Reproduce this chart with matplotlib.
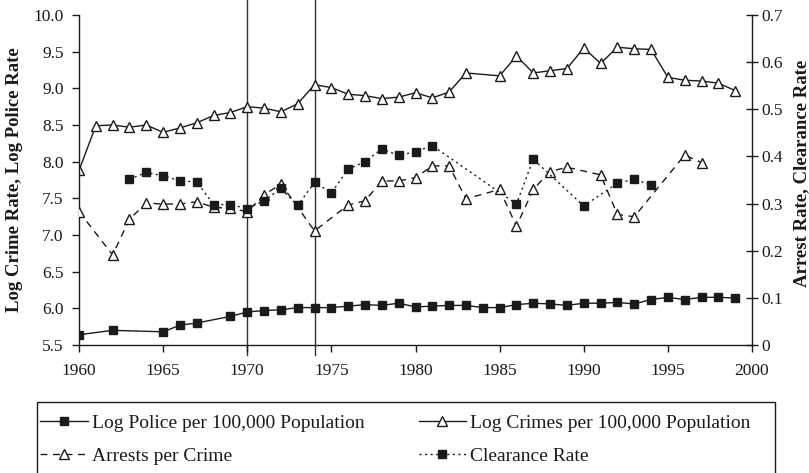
import numpy as np
import matplotlib
matplotlib.use("Agg")
import matplotlib.pyplot as plt
from matplotlib.ticker import FuncFormatter
from matplotlib.patches import Rectangle

plt.rcParams['font.family'] = ['Liberation Serif', 'DejaVu Serif']

# log police per 100,000 population (left axis)
police_years = [1960, 1962, 1965, 1966, 1967, 1969, 1970, 1971, 1972, 1973,
                1974, 1975, 1976, 1977, 1978, 1979, 1980, 1981, 1982, 1983,
                1984, 1985, 1986, 1987, 1988, 1989, 1990, 1991, 1992, 1993,
                1994, 1995, 1996, 1997, 1998, 1999]
police = [5.64, 5.70, 5.68, 5.77, 5.80, 5.89, 5.95, 5.97, 5.98, 6.01,
          6.01, 6.01, 6.03, 6.05, 6.04, 6.07, 6.02, 6.03, 6.04, 6.04,
          6.01, 6.01, 6.05, 6.07, 6.06, 6.04, 6.07, 6.07, 6.08, 6.06,
          6.12, 6.15, 6.12, 6.15, 6.15, 6.14]

# log crimes per 100,000 population (left axis)
crime_years = [1960, 1961, 1962, 1963, 1964, 1965, 1966, 1967, 1968, 1969,
               1970, 1971, 1972, 1973, 1974, 1975, 1976, 1977, 1978, 1979,
               1980, 1981, 1982, 1983, 1985, 1986, 1987, 1988, 1989, 1990,
               1991, 1992, 1993, 1994, 1995, 1996, 1997, 1998, 1999]
crime = [7.88, 8.49, 8.50, 8.47, 8.50, 8.40, 8.46, 8.53, 8.63, 8.67,
         8.75, 8.73, 8.68, 8.79, 9.05, 9.01, 8.92, 8.90, 8.86, 8.88,
         8.94, 8.87, 8.95, 9.21, 9.17, 9.44, 9.21, 9.24, 9.27, 9.55,
         9.34, 9.56, 9.54, 9.53, 9.15, 9.11, 9.10, 9.07, 8.97]

# arrests per crime (right axis)
arrest_years = [1960, 1962, 1963, 1964, 1965, 1966, 1967, 1968, 1969, 1970,
                1971, 1972, 1974, 1976, 1977, 1978, 1979, 1980, 1981, 1982,
                1983, 1985, 1986, 1987, 1988, 1989, 1991, 1992, 1993, 1996,
                1997]
arrests = [0.283, 0.191, 0.267, 0.301, 0.299, 0.299, 0.304, 0.292, 0.290, 0.283,
           0.318, 0.342, 0.242, 0.297, 0.306, 0.348, 0.348, 0.355, 0.380, 0.380,
           0.310, 0.330, 0.252, 0.330, 0.368, 0.377, 0.361, 0.277, 0.272, 0.403,
           0.387]

# clearance rate (right axis)
clear_years = [1963, 1964, 1965, 1966, 1967, 1968, 1969, 1970, 1971, 1972,
               1973, 1974, 1975, 1976, 1977, 1978, 1979, 1980, 1981, 1986,
               1987, 1990, 1992, 1993, 1994]
clearance = [0.352, 0.366, 0.359, 0.348, 0.346, 0.298, 0.298, 0.289, 0.306, 0.332,
             0.296, 0.345, 0.323, 0.373, 0.389, 0.416, 0.402, 0.410, 0.423, 0.299,
             0.394, 0.295, 0.343, 0.352, 0.339]

ink = '#1a1a1a'
W, H = 809, 473

fig = plt.figure(figsize=(W / 100, H / 100), dpi=100)
ax = fig.add_axes([79 / W, 128 / H, 673 / W, 330 / H])
ax2 = ax.twinx()

ax.plot(police_years, police, '-', color=ink, lw=1.0, marker='s', ms=6,
        mfc=ink, mec=ink, label='Log Police per 100,000 Population')
ax.plot(crime_years, crime, '-', color=ink, lw=1.0, marker='^', ms=7.5,
        mfc='white', mec=ink, mew=1.0, label='Log Crimes per 100,000 Population')
ax2.plot(arrest_years, arrests, color=ink, lw=1.0, ls=(0, (5, 4)), marker='^',
         ms=7.5, mfc='white', mec=ink, mew=1.0, label='Arrests per Crime')
ax2.plot(clear_years, clearance, color=ink, lw=1.0, ls=(0, (1.5, 2.5)), marker='s',
         ms=5.5, mfc=ink, mec=ink, label='Clearance Rate')

# policy markers, running a bit past the axes
for yr in [1970, 1974]:
    ax.plot([yr, yr], [5.364, 10.205], color='#333333', lw=1.0, clip_on=False, zorder=1)

ax.set_xlim(1960, 2000)
ax.set_ylim(5.5, 10.0)
ax2.set_ylim(0, 0.7)
ax.set_xticks(np.arange(1960, 2001, 5))
ax.set_yticks(np.arange(5.5, 10.01, 0.5))
ax2.set_yticks(np.arange(0, 0.71, 0.1))
ax.yaxis.set_major_formatter(FuncFormatter(lambda v, p: f'{v:.1f}'))
ax2.yaxis.set_major_formatter(FuncFormatter(lambda v, p: '0' if abs(v) < 1e-9 else f'{v:.1f}'))

for a in (ax, ax2):
    a.spines['top'].set_visible(False)
    for s in a.spines.values():
        s.set_color(ink)
        s.set_linewidth(1.0)
ax.spines['right'].set_visible(False)
ax2.spines['left'].set_visible(False)
ax2.spines['bottom'].set_visible(False)
ax.tick_params(axis='y', labelsize=12.5, colors=ink, width=1.0, length=5, pad=6)
ax.tick_params(axis='x', labelsize=12.5, colors=ink, width=1.0, length=5, pad=8)
ax2.tick_params(axis='y', labelsize=12.5, colors=ink, width=1.0, direction='inout',
                length=8, pad=3)

ax.set_ylabel('Log Crime Rate, Log Police Rate', fontsize=13.5, fontweight='bold', color=ink)
ax.yaxis.set_label_coords(-0.083, 0.5)
ax2.set_ylabel('Arrest Rate, Clearance Rate', fontsize=13.5, fontweight='bold',
               color=ink, rotation=90)
ax2.yaxis.set_label_coords(1.061, 0.52)

# legend box drawn separately so it runs off the bottom edge like the original
fig.patches.append(Rectangle((37 / W, -0.05), 738 / W, 0.05 + 71 / H,
                             transform=fig.transFigure, fill=False,
                             edgecolor=ink, lw=1.0))
h1, l1 = ax.get_legend_handles_labels()
h2, l2 = ax2.get_legend_handles_labels()
handles = [h1[0], h2[0], h1[1], h2[1]]
labels = [l1[0], l2[0], l1[1], l2[1]]
leg = fig.legend(handles, labels, ncol=2, loc='upper left',
                 bbox_to_anchor=(40 / W, 1 - 414 / H), fontsize=14,
                 frameon=False, handlelength=2.45, handletextpad=0.2,
                 borderaxespad=0, borderpad=0, labelspacing=0.8,
                 columnspacing=2.8)
for t in leg.get_texts():
    t.set_color(ink)

fig.savefig('out.png', dpi=100)
